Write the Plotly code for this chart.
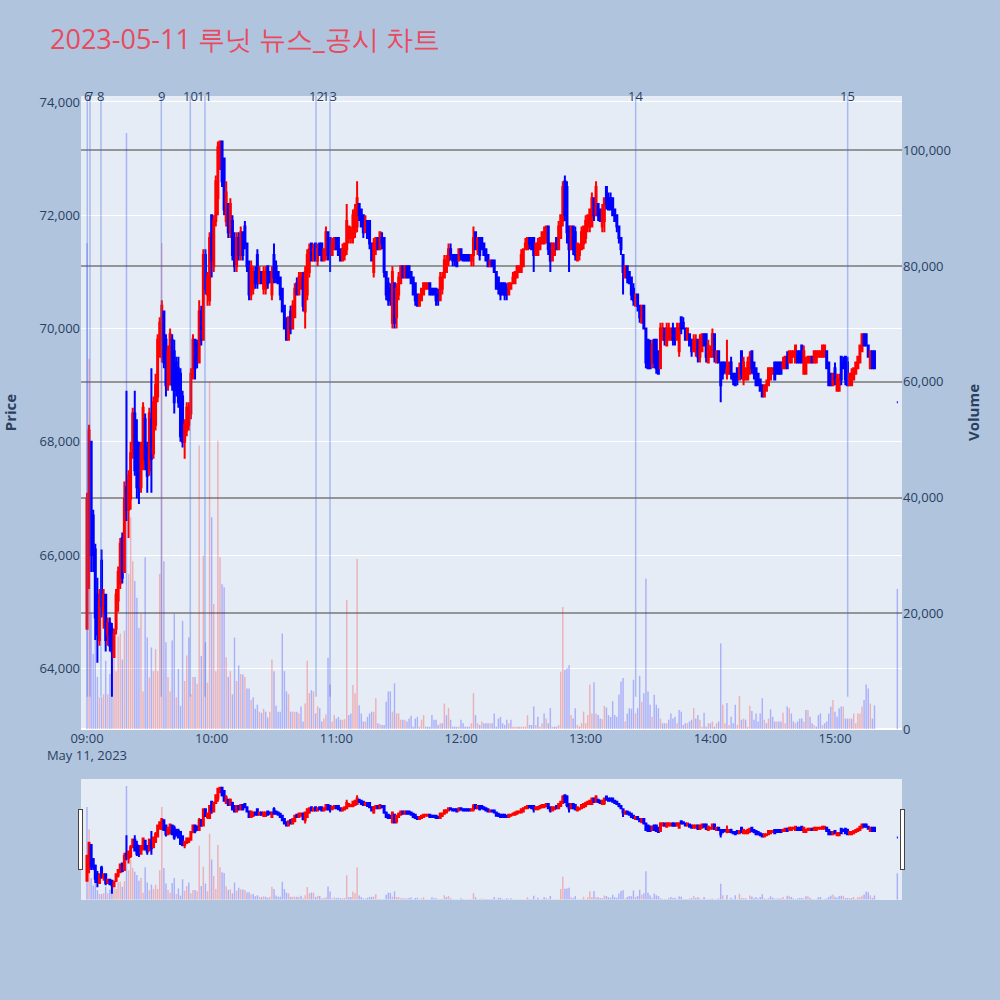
import pandas as pd
import plotly.graph_objects as go

# ---------------- data (1-minute candles 09:00-15:19 + 15:30 close) ----------------
opens = [
64700,66600,68000,66700,66100,65300,64500,65900,65000,65300,
64600,64800,64700,64200,64700,65200,65500,66300,65700,67200,
66800,67000,67800,68500,68000,67800,67200,67600,68400,67900,
67500,68400,67800,68300,68800,69500,69500,70300,69800,69000,
69100,69800,69600,69400,69300,69200,68800,68000,68200,68300,
68500,69200,69800,69700,69400,70300,69800,71300,70600,70500,
72000,71100,71900,72300,72900,73300,73000,71900,72200,71700,
71900,71600,71100,71600,71300,71700,71800,71500,71100,70600,
70700,71000,71300,70800,71000,70700,70700,71100,71000,70600,
71300,71100,71000,70900,70700,70400,70100,69800,70300,70000,
70200,70800,70600,70700,70900,70300,70600,71000,71500,71200,
71500,71200,71500,71500,71200,71300,71700,71600,71300,71400,
71600,71600,71400,71200,71300,71400,71600,71600,71600,71700,
71800,72200,72100,72000,71700,71900,71900,71500,71000,71400,
71600,71400,71600,71600,71000,70800,70700,70100,70800,70200,
70600,70800,71100,70900,71100,71100,71000,70900,70800,70600,
70400,70500,70600,70700,70700,70800,70700,70700,70700,70600,
70500,70700,70900,71000,71200,71400,71300,71300,71300,71200,
71400,71300,71300,71300,71300,71200,71300,71700,71400,71600,
71600,71500,71400,71300,71100,71200,71200,71000,70900,70800,
70800,70800,70700,70600,70700,70800,70800,70900,71000,71000,
71100,71400,71400,71600,71600,71600,71300,71300,71400,71500,
71500,71600,71800,71500,71200,71300,71600,71400,71600,71900,
72600,72500,71800,71400,71800,71700,71200,71300,71400,71500,
71600,71800,71800,71800,72300,72000,72200,72100,71800,71900,
72500,72300,72300,72300,72100,72000,71800,71600,71300,70900,
71100,71000,70900,70700,70400,70600,70400,70100,70400,70000,
69800,69700,69400,69800,69800,69600,69300,69800,70000,69700,
69800,69800,70000,70000,69800,69600,70200,70100,70000,69800,
69900,69800,69600,69600,69800,69500,69600,69900,69900,69400,
69500,69500,69900,69400,69600,69400,69400,69400,69200,69200,
69400,69200,69200,69300,69100,69600,69100,69100,69100,69200,
69600,69400,69300,69200,69100,69000,68800,68900,69000,69100,
69200,69400,69400,69400,69400,69300,69300,69500,69400,69400,
69500,69400,69600,69600,69700,69200,69200,69400,69400,69500,
69400,69400,69500,69500,69500,69500,69600,69400,69200,69000,
69300,68900,68900,69500,69400,69500,69400,69000,69000,69100,
69200,69300,69400,69600,69900,69900,69700,69300,69600,69600,
68700]
highs = [
67100,68300,68000,66800,66200,65600,65400,66100,65400,65300,
64900,64900,64800,64700,65400,65800,66300,66400,67300,68900,
67500,68000,68600,68900,68400,68000,68000,68700,68500,68000,
68600,69300,68800,69200,69900,70200,70500,70300,69900,69700,
70000,69900,69800,69500,69500,69300,68900,68400,68700,68700,
69300,69900,69800,69800,70500,70400,71400,71400,71000,71700,
72000,72000,72700,73300,73300,73300,73000,72600,72200,72300,
72000,71700,71700,71700,71800,71700,71900,71500,71200,71200,
71100,71100,71400,71100,71000,71100,71100,71100,71000,71100,
71500,71200,71000,70900,70700,70400,70200,70200,70400,70500,
70800,70900,71000,71000,71000,71100,71400,71500,71500,71500,
71500,71500,71500,71500,71400,71800,71700,71600,71600,71600,
71600,71600,71400,71500,71500,72200,71800,71800,72100,72200,
72600,72200,72100,72000,72000,71900,71900,71500,71600,71600,
71600,71700,71700,71600,71000,70900,70800,71100,70800,70800,
71000,71100,71100,71100,71100,71100,71000,70900,70800,70600,
70600,70700,70800,70800,70800,70800,70700,70700,70700,70700,
71000,71000,71300,71300,71500,71500,71300,71300,71300,71400,
71400,71300,71300,71300,71300,71300,71800,71700,71600,71600,
71600,71500,71400,71300,71200,71200,71200,71000,70900,70800,
70800,70800,70800,70800,70800,71000,71000,71100,71100,71400,
71400,71600,71600,71600,71600,71600,71500,71600,71600,71700,
71800,71800,71800,71500,71500,71500,71600,71900,72000,72600,
72700,72600,71800,71800,71800,71800,71500,71500,71800,71800,
72000,72000,72100,72400,72300,72600,72200,72100,72200,72300,
72500,72400,72400,72300,72100,72000,71800,71600,71300,71100,
71100,71000,70900,70800,70600,70600,70400,70400,70400,70000,
69800,69800,69800,69800,69800,69600,70100,70100,70000,70100,
70100,70000,70100,70000,70100,70100,70200,70200,70000,70000,
69900,69800,69900,69900,69800,69900,69900,69900,69900,69800,
69700,70000,69900,69600,69600,69400,69400,69400,69800,69400,
69500,69200,69200,69300,69400,69600,69500,69300,69500,69600,
69600,69400,69300,69200,69100,69000,69000,69100,69300,69300,
69300,69400,69400,69400,69400,69500,69500,69600,69600,69600,
69600,69700,69600,69600,69700,69700,69500,69500,69500,69500,
69600,69600,69600,69600,69700,69700,69600,69400,69200,69200,
69400,69200,69200,69500,69500,69500,69500,69200,69300,69300,
69400,69500,69700,69900,69900,69900,69700,69600,69600,69600,
68700]
lows = [
64700,65400,65700,65700,64500,64100,64400,64900,64700,64300,
64400,64300,63500,64200,64600,65000,65400,65500,65700,66600,
66300,66800,67700,67400,67000,66900,67100,67500,67500,67100,
67400,67100,67700,68200,68700,69500,69400,69300,68800,68900,
69000,68900,68500,68800,68600,68000,67900,67700,68100,68200,
68400,69100,69100,69300,69400,69700,69800,70600,70400,70400,
70900,71000,71800,72000,72800,72500,72000,71800,71600,71600,
71200,71000,71000,71200,71200,71200,71400,71000,70500,70500,
70600,70700,70700,70800,70800,70600,70600,70700,70800,70500,
70800,70800,70800,70500,70300,70000,69800,69800,69900,70000,
70200,70600,70600,70700,70300,70000,70500,70900,71200,71200,
71200,71100,71300,71200,71200,71200,71200,71000,71300,71400,
71400,71300,71200,71200,71200,71300,71500,71500,71500,71600,
71700,71900,71800,71600,71700,71600,71400,71200,70900,71300,
71400,71400,71400,70900,70500,70400,70400,70000,70000,70000,
70500,70800,70900,70900,70900,70900,70800,70600,70400,70400,
70400,70500,70600,70700,70700,70600,70600,70600,70400,70400,
70500,70600,70900,71000,71100,71200,71100,71100,71100,71200,
71200,71200,71200,71200,71200,71100,71100,71400,71300,71200,
71400,71300,71200,71100,71100,71100,71000,70700,70600,70500,
70600,70500,70500,70600,70700,70800,70800,70900,71000,71000,
71100,71400,71400,71400,71400,71000,71300,71300,71400,71500,
71500,71500,71300,71000,71200,71300,71400,71400,71600,71800,
71900,71500,71000,71400,71300,71200,71200,71200,71400,71400,
71500,71700,71700,71800,71900,72000,71900,71900,71700,71700,
72100,72100,72100,72000,71900,71700,71500,71300,70600,70900,
70800,70800,70500,70400,70400,70300,70100,70100,70000,69300,
69300,69300,69300,69300,69200,69200,69300,69800,69700,69700,
69800,69800,69700,69700,69800,69500,69900,70000,69800,69800,
69700,69500,69600,69500,69400,69400,69600,69700,69400,69400,
69500,69500,69400,69400,69400,68700,69100,69200,69100,69200,
69100,69000,69000,69000,69100,69100,69000,69100,69100,69200,
69200,69100,69000,69000,68900,68800,68800,68900,69000,69100,
69200,69100,69200,69200,69200,69300,69300,69300,69400,69400,
69500,69400,69400,69400,69400,69200,69200,69400,69400,69400,
69400,69400,69500,69500,69500,69500,69300,69000,69000,69000,
69000,68900,68900,69000,69300,69000,69000,69000,69000,69100,
69200,69300,69400,69600,69700,69700,69500,69300,69300,69300,
68700]
closes = [
67000,68200,66000,66000,64900,64600,65200,65100,65300,64500,
64800,64400,64300,64600,65300,65700,66200,65600,67000,66800,
67400,67800,68500,67500,67200,67200,67900,68600,67700,67400,
68500,67700,68700,69000,69800,70100,70400,69400,69000,69600,
69900,69000,68700,68900,68700,68100,68000,68300,68600,68600,
69200,69800,69300,69500,70300,69800,71300,70700,70900,71600,
71200,71900,72600,73200,73300,72600,72100,72400,71700,72200,
71300,71100,71600,71300,71700,71300,71500,71100,70600,71100,
71000,70800,70800,71000,70800,71000,71000,70800,70900,71000,
70900,70900,70800,70600,70300,70000,69800,70200,70000,70400,
70700,70600,70900,70900,70400,71000,71300,71400,71200,71400,
71200,71400,71300,71200,71400,71700,71300,71300,71500,71600,
71400,71300,71200,71400,71500,71900,71800,71700,72000,72100,
72300,72000,71800,71700,71900,71600,71500,71200,71500,71600,
71400,71700,71500,71000,70600,70500,70500,71000,70100,70700,
70900,71100,70900,71100,70900,70900,70800,70600,70500,70400,
70600,70700,70800,70800,70800,70600,70600,70600,70500,70500,
70900,70900,71200,71200,71400,71300,71200,71200,71100,71400,
71300,71200,71200,71200,71200,71300,71600,71400,71600,71300,
71400,71300,71200,71100,71200,71100,71000,70700,70700,70600,
70600,70600,70600,70800,70800,70900,71000,71100,71100,71300,
71400,71500,71600,71500,71400,71300,71500,71500,71600,71700,
71700,71800,71400,71200,71500,71500,71400,71800,72000,72500,
72000,71700,71400,71800,71400,71300,71500,71400,71700,71800,
71900,72000,72100,72300,72000,72500,72000,71900,72100,72300,
72200,72100,72100,72000,71900,71800,71600,71400,71000,71100,
70900,70800,70600,70500,70600,70400,70200,70400,70000,69400,
69300,69300,69700,69400,69300,69200,70000,70000,69800,70000,
70000,70000,69800,69800,70000,70000,70000,70000,69800,70000,
69700,69600,69800,69800,69500,69800,69900,69700,69500,69700,
69600,69900,69500,69600,69400,69000,69200,69300,69300,69400,
69200,69100,69000,69100,69300,69200,69400,69300,69400,69500,
69300,69200,69000,69000,68900,68800,69000,69000,69300,69300,
69300,69100,69200,69200,69200,69400,69500,69300,69600,69600,
69600,69700,69400,69400,69400,69600,69400,69500,69500,69400,
69600,69600,69600,69600,69700,69700,69300,69000,69000,69200,
69100,69100,69100,69100,69300,69100,69000,69200,69200,69300,
69400,69500,69700,69900,69700,69700,69500,69600,69300,69300,
68700]
volumes = [
84000,64000,20000,13000,19000,9000,5500,5500,6000,11800,
6000,9500,15800,15000,10000,16000,16500,12000,17000,103000,
26800,36600,29000,25600,22700,17500,19900,6500,29700,15800,
8900,14100,10000,13800,10000,26800,84000,29000,15000,9000,
6500,15300,19900,5500,10400,4000,18700,8300,12700,15800,
6000,9000,9000,7800,49000,12600,30000,15000,8000,60000,
36600,21600,10000,49800,29700,25000,24500,12400,9000,10000,
6000,15800,8300,11000,9500,9400,9000,7000,7000,5000,
5500,3500,4200,3000,2800,3500,3000,2000,3000,12000,
10000,4000,3000,3000,16500,10000,6500,6000,3000,3000,
3000,3000,2700,3900,1300,4400,11800,6200,6700,6500,
2700,3900,3600,1300,1800,2500,12300,7700,1300,2400,
1800,2100,1600,1600,1700,22300,2400,2700,7600,6200,
29400,4100,2700,1300,1300,2100,2700,3000,3000,5300,
1000,800,700,700,4700,6500,6500,3000,7900,2700,
2700,1600,1600,1600,1300,1800,2300,400,1800,2100,
400,1600,2400,400,400,400,2400,1600,1600,700,
1000,1000,4400,2400,3600,1600,400,400,400,400,
1600,1000,400,400,400,1000,6200,2400,1000,700,
1300,1000,1000,1000,1000,1000,2700,400,1800,2100,
1000,700,1600,1000,1600,400,400,400,400,400,
400,400,2400,700,700,3900,700,2100,400,1000,
2700,1800,1000,3600,400,400,400,700,9900,21100,
10200,10500,11000,2400,1800,3600,700,400,1000,3000,
1000,2400,7700,2700,8100,2700,2400,1800,1700,4000,
3700,2400,2100,4800,2400,2100,5900,8200,8800,1300,
2700,3600,3500,8500,2700,3600,9200,4700,6200,26000,
6500,4200,2100,5900,4200,3600,1800,1000,1000,1000,
1600,2700,1800,2100,1000,3300,3000,700,1000,1000,
1300,1600,3600,1800,2400,1600,400,2800,400,1000,
1000,1300,400,1000,1300,14800,4200,1000,4500,700,
2100,1000,4200,700,5700,1600,1800,1600,400,4000,
3100,1600,2700,1300,2700,5300,1600,1000,1800,3400,
2100,1300,1300,1300,1300,2800,1000,3900,3600,2700,
1300,1000,1300,1800,1800,1300,3300,3300,2100,1000,
700,400,2400,2700,700,1000,1300,2700,3900,5000,
3000,2100,3600,3900,3900,1800,1800,1800,1800,2700,
1000,2700,2700,3900,5000,7700,7000,4400,1800,4100,
24200]
times = list(pd.date_range("2023-05-11 09:00", periods=380, freq="min")) + [pd.Timestamp("2023-05-11 15:30")]

news_labels = ["6", "7", "8", "9", "10", "11", "12", "13", "14", "15"]
news_times = ["2023-05-11 09:00:09", "2023-05-11 09:01:26", "2023-05-11 09:06:44",
              "2023-05-11 09:35:46", "2023-05-11 09:49:43", "2023-05-11 09:56:47",
              "2023-05-11 10:50:13", "2023-05-11 10:56:57", "2023-05-11 13:24:04",
              "2023-05-11 15:06:06"]

title_text = "2023-05-11 루닛 뉴스_공시 차트"

# ---------------- figure ----------------
# volume colour: up vs previous close (first bar has no previous close -> blue)
vol_colors = ["rgba(0,0,255,0.25)"] + [
    "rgba(255,0,0,0.25)" if c > pc else "rgba(0,0,255,0.25)" for pc, c in zip(closes[:-1], closes[1:])]

fig = go.Figure()
fig.add_trace(go.Bar(x=times, y=volumes, marker=dict(color=vol_colors, line=dict(width=0)),
                     yaxis="y", name="Volume", showlegend=False))
fig.add_trace(go.Candlestick(x=times, open=opens, high=highs, low=lows, close=closes,
                             yaxis="y2", name="Price", showlegend=False,
                             increasing=dict(line=dict(color="red"), fillcolor="red"),
                             decreasing=dict(line=dict(color="blue"), fillcolor="blue")))

price_lo, price_hi = 62930, 74105
day_low = min(lows)
for t, lab in zip(news_times, news_labels):
    fig.add_shape(type="line", xref="x", yref="y2", x0=t, x1=t, y0=day_low, y1=price_hi,
                  line=dict(color="rgba(65,105,225,0.38)", width=1.5))
    fig.add_annotation(x=t, xref="x", y=1, yref="paper", text=lab, showarrow=False,
                       yanchor="middle", font=dict(size=13, color="#2a3f5f"))

xr = ["2023-05-11 08:57:07", "2023-05-11 15:32:15"]
axis_title_font = dict(size=15, color="#2a3f5f", weight="bold")
tick_font = dict(size=13, color="#2a3f5f")
fig.update_layout(
    width=1000, height=1000,
    paper_bgcolor="#B0C4DE", plot_bgcolor="#E5ECF6",
    margin=dict(l=81, r=98, t=96, b=100),
    title=dict(text=title_text, x=0.05, xanchor="left", y=0.96, yanchor="middle",
               font=dict(size=27, color="#E84A5F")),
    showlegend=False,
    bargap=0.3,
    xaxis=dict(type="date", range=xr, showgrid=False, tickfont=tick_font,
               rangeslider=dict(visible=True, range=xr, thickness=0.15, bgcolor="#E5ECF6",
                                yaxis=dict(rangemode="match"))),
    yaxis=dict(title=dict(text="Volume", font=axis_title_font, standoff=18), side="right",
               range=[0, 109400], dtick=20000, tickformat=",", tickfont=tick_font,
               automargin=False,
               gridcolor="rgba(128,128,128,0.8)", gridwidth=2, showgrid=True, zeroline=True),
    yaxis2=dict(title=dict(text="Price", font=axis_title_font, standoff=26), side="left",
                overlaying="y", range=[price_lo, price_hi], tickfont=tick_font,
                automargin=False,
                dtick=2000, tickformat=",", gridcolor="white", showgrid=True),
)

fig.write_html("out.html", config={"displayModeBar": False},
               post_script="document.body.style.margin='0';")
